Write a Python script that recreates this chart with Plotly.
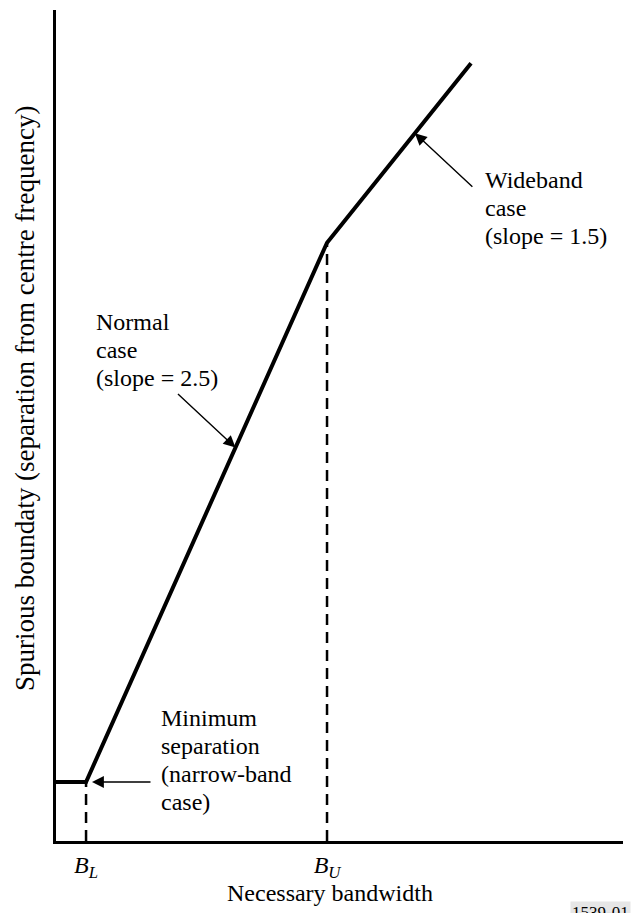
import plotly.graph_objects as go

# ---- data (arbitrary units) ----
bandwidth = [0.0, 5.3, 47.8, 73.2]          # necessary bandwidth
boundary = [7.1, 7.1, 72.0, 93.6]           # spurious boundary
tick_vals = [5.3, 47.8]
tick_text = ["<i>B</i><sub><i>L</i></sub>", "<i>B</i><sub><i>U</i></sub>"]
x_title = "Necessary bandwidth"
y_title = "Spurious boundaty (separation from centre frequency)"
wide_lines = ["Wideband", "case", "(slope = 1.5)"]
normal_lines = ["Normal", "case", "(slope = 2.5)"]
min_lines = ["Minimum", "separation", "(narrow-band", "case)"]
fig_id = "1539-01"

FONT = "Liberation Serif, Times New Roman, serif"
FS = 24

fig = go.Figure()

# main boundary line
fig.add_trace(go.Scatter(x=bandwidth, y=boundary, mode="lines",
                         line=dict(color="black", width=4),
                         hoverinfo="skip", showlegend=False))
# dashed verticals at B_L and B_U
for i in (1, 2):
    fig.add_trace(go.Scatter(x=[bandwidth[i], bandwidth[i]], y=[0, boundary[i]],
                             mode="lines",
                             line=dict(color="black", width=2.5, dash="11px,7px"),
                             hoverinfo="skip", showlegend=False))


def along(seg, frac):
    x0, x1 = bandwidth[seg], bandwidth[seg + 1]
    y0, y1 = boundary[seg], boundary[seg + 1]
    return x0 + frac * (x1 - x0), y0 + frac * (y1 - y0)


annotations = []
arrow_common = dict(showarrow=True, arrowhead=2, arrowsize=1.7, arrowwidth=1.4,
                    arrowcolor="black", text="", axref="pixel", ayref="pixel")
# wideband arrow
tx, ty = along(2, 0.61)
annotations.append(dict(x=tx, y=ty, ax=59, ay=55, **arrow_common))
# normal arrow
tx, ty = along(1, 0.62)
annotations.append(dict(x=tx, y=ty, ax=-59, ay=-55, **arrow_common))
# minimum arrow
annotations.append(dict(x=bandwidth[1] + 1.05, y=boundary[1], ax=60, ay=0, **arrow_common))

LS = 3.37  # line spacing in y units


def block(lines, x0, y0):
    for k, t in enumerate(lines):
        annotations.append(dict(x=x0, y=y0 - k * LS, text=t, showarrow=False,
                                xanchor="left", yanchor="middle",
                                font=dict(family=FONT, size=FS, color="black")))


block(wide_lines, 75.3, 79.5)
block(normal_lines, 6.7, 62.5)
block(min_lines, 18.2, 14.8)

# axis titles as annotations
annotations.append(dict(x=-0.0547, y=0.533, xref="paper", yref="paper",
                        text=y_title, textangle=-90, showarrow=False,
                        xanchor="center", yanchor="middle",
                        font=dict(family=FONT, size=27, color="black")))
annotations.append(dict(x=0.483, y=-0.0626, xref="paper", yref="paper",
                        text=x_title, showarrow=False,
                        xanchor="center", yanchor="middle",
                        font=dict(family=FONT, size=FS, color="black")))
annotations.append(dict(x=(570 - 56) / 567, y=(841 - 912) / 831, xref="paper", yref="paper",
                        text=fig_id, showarrow=False, xanchor="left", yanchor="middle",
                        bgcolor="#e6e6e6", borderpad=1,
                        font=dict(family=FONT, size=17, color="black")))

fig.update_layout(
    width=631, height=913,
    margin=dict(l=56, r=8, t=10, b=72),
    paper_bgcolor="white", plot_bgcolor="white",
    annotations=annotations,
    xaxis=dict(range=[0, 100], showgrid=False, zeroline=False,
               showline=True, linecolor="black", linewidth=2.5,
               tickvals=tick_vals, ticktext=tick_text, ticks="",
               ticklabelstandoff=0,
               tickfont=dict(family=FONT, size=FS, color="black")),
    yaxis=dict(range=[0, 100], showgrid=False, zeroline=False,
               showline=True, linecolor="black", linewidth=2.5,
               showticklabels=False, ticks=""),
)

fig.write_html("out.html", config={"displayModeBar": False},
               post_script="document.body.style.margin='0';")
